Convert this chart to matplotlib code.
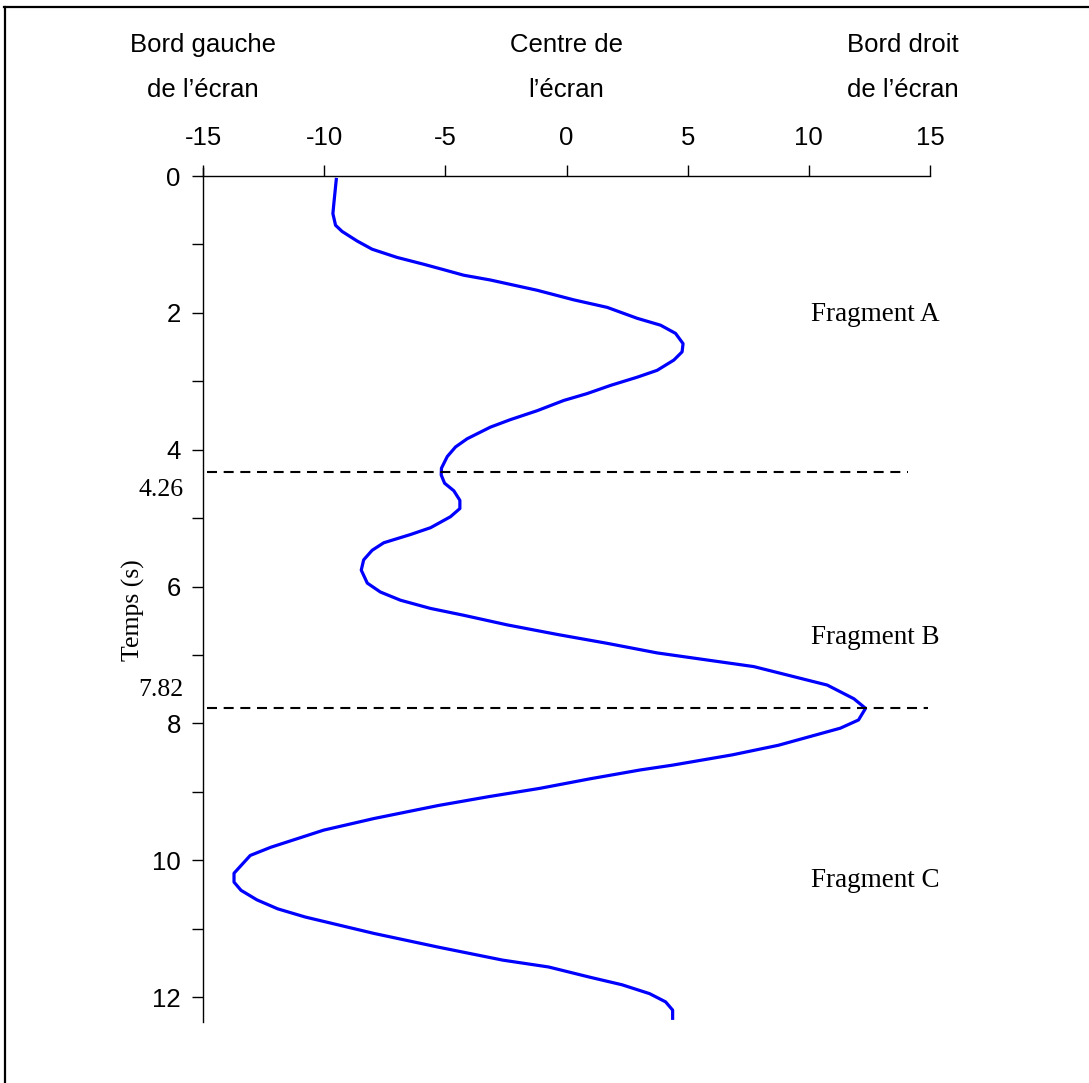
import numpy as np
import matplotlib
matplotlib.use("Agg")
import matplotlib.pyplot as plt
from matplotlib.lines import Line2D
from matplotlib.ticker import MultipleLocator

# position on screen (x) against time (s)
temps = [0.05, 0.40, 0.55, 0.72, 0.81, 0.95, 1.07, 1.19, 1.29, 1.37, 1.45, 1.52,
         1.67, 1.81, 1.92, 2.08, 2.18, 2.30, 2.45, 2.57, 2.69, 2.84, 2.94, 3.06,
         3.18, 3.28, 3.43, 3.56, 3.67, 3.84, 3.96, 4.10, 4.27, 4.37, 4.49, 4.60,
         4.74, 4.86, 4.98, 5.14, 5.24, 5.36, 5.47, 5.61, 5.76, 5.95, 6.08, 6.20,
         6.32, 6.42, 6.56, 6.70, 6.83, 6.97, 7.17, 7.44, 7.64, 7.78, 7.95, 8.07,
         8.32, 8.46, 8.61, 8.68, 8.81, 8.95, 9.07, 9.20, 9.39, 9.56, 9.81, 9.93,
         10.19, 10.32, 10.44, 10.58, 10.71, 10.83, 11.07, 11.27, 11.46, 11.56,
         11.71, 11.82, 11.95, 12.07, 12.19, 12.31]
position = [-9.50, -9.60, -9.64, -9.53, -9.26, -8.64, -8.02, -6.99, -5.89, -5.06, -4.24, -3.14,
            -1.21, 0.30, 1.68, 2.92, 3.88, 4.50, 4.81, 4.77, 4.43, 3.74, 2.92, 1.82,
            0.85, -0.11, -1.21, -2.31, -3.14, -4.10, -4.58, -4.92, -5.16, -5.17, -5.03, -4.65,
            -4.40, -4.40, -4.79, -5.61, -6.44, -7.54, -8.02, -8.37, -8.47, -8.22, -7.68, -6.85,
            -5.61, -4.24, -2.45, -0.38, 1.68, 3.74, 7.73, 10.76, 11.86, 12.34, 12.05, 11.30,
            8.74, 6.84, 4.38, 3.05, 0.97, -1.11, -3.20, -5.29, -7.94, -10.02, -12.20, -13.05,
            -13.72, -13.72, -13.43, -12.77, -11.92, -10.78, -7.94, -5.29, -2.63, -0.74,
            0.97, 2.29, 3.43, 4.09, 4.38, 4.38]

# dashed separators (drawn position) and their printed values
coupures = [4.33, 7.77]
coupures_fin = [14.1, 14.9]
coupures_txt = ["4.26", "7.82"]
coupures_txt_y = [4.59, 7.51]

fragments = ["Fragment A", "Fragment B", "Fragment C"]
fragments_y = [2.02, 6.75, 10.29]

x_ticks = [-15, -10, -5, 0, 5, 10, 15]
y_ticks = [0, 2, 4, 6, 8, 10, 12]

sans = ["Liberation Sans", "DejaVu Sans"]
serif = ["Liberation Serif", "DejaVu Serif"]
fs_sans = 18.5
fs_serif = 18.5

fig = plt.figure(figsize=(10.89, 10.83), dpi=100)
ax = fig.add_axes([203 / 1089, 1 - 1022.4 / 1083, 727 / 1089, 854.6 / 1083])

ax.plot(position, temps, color="#0000ff", lw=2.3, solid_joinstyle="round")
for c, fin in zip(coupures, coupures_fin):
    ax.plot([-14.83, fin], [c, c], color="black", lw=1.5, dashes=(4.8, 3.2))

ax.set_xlim(-15, 15)
ax.set_ylim(12.37, -0.12)

ax.spines["right"].set_visible(False)
ax.spines["bottom"].set_visible(False)
ax.spines["top"].set_position(("data", 0))
ax.spines["top"].set_linewidth(1.0)
ax.spines["left"].set_linewidth(1.0)

ax.xaxis.tick_top()
ax.set_xticks(x_ticks)
ax.set_xticklabels([str(v) for v in x_ticks], family=sans, fontsize=fs_sans)
ax.tick_params(axis="x", direction="out", length=8, width=1, pad=11)

ax.set_yticks(y_ticks)
ax.set_yticklabels([str(v) for v in y_ticks], family=sans, fontsize=fs_sans)
ax.yaxis.set_minor_locator(MultipleLocator(1))
ax.tick_params(axis="y", which="both", direction="out", length=8, width=1, pad=8)

# headers above the x axis
ax.text(-15, -1.915, "Bord gauche", ha="center", va="center", family=sans, fontsize=fs_sans, clip_on=False)
ax.text(-15, -1.257, "de l’écran", ha="center", va="center", family=sans, fontsize=fs_sans, clip_on=False)
ax.text(0, -1.915, "Centre de", ha="center", va="center", family=sans, fontsize=fs_sans, clip_on=False)
ax.text(0, -1.257, "l’écran", ha="center", va="center", family=sans, fontsize=fs_sans, clip_on=False)
ax.text(16.2, -1.915, "Bord droit", ha="right", va="center", family=sans, fontsize=fs_sans, clip_on=False)
ax.text(16.2, -1.257, "de l’écran", ha="right", va="center", family=sans, fontsize=fs_sans, clip_on=False)

for txt, yy in zip(fragments, fragments_y):
    ax.text(10.11, yy, txt, ha="left", va="center", family=serif, fontsize=19.5)

for txt, yy in zip(coupures_txt, coupures_txt_y):
    ax.text(-15.8, yy, txt, ha="right", va="center", family=serif, fontsize=fs_serif, clip_on=False)

ax.text(-17.87, 6.35, "Temps (s)", rotation=90, ha="center", va="center", family=serif, fontsize=fs_serif, clip_on=False)

# frame lines (top and left) of the cropped picture
fig.add_artist(Line2D([4 / 1089, 1], [1 - 7 / 1083, 1 - 7 / 1083], color="black", lw=1.6))
fig.add_artist(Line2D([5 / 1089, 5 / 1089], [0, 1 - 7 / 1083], color="black", lw=1.6))

fig.savefig("out.png", dpi=100)
